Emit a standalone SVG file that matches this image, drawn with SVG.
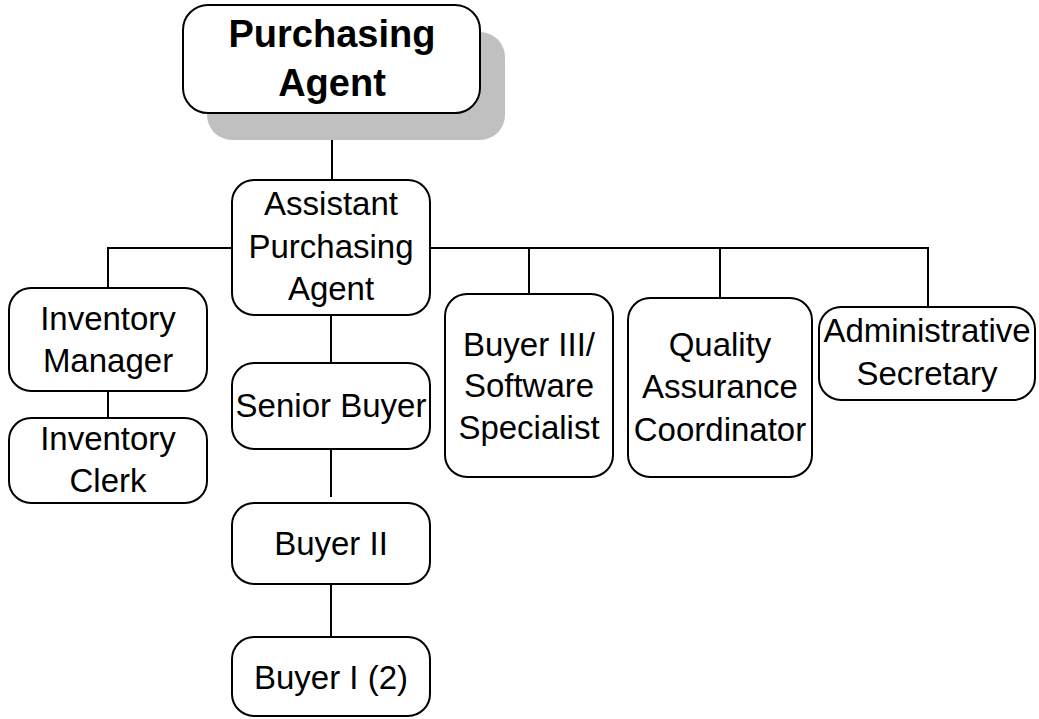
<svg xmlns="http://www.w3.org/2000/svg" width="1039" height="719" viewBox="0 0 1039 719">
<style>
.box{fill:#fff;stroke:#000;stroke-width:2}
.t{font-family:"Liberation Sans",Arial,sans-serif;font-size:33px;fill:#000;text-anchor:middle}
.tb{font-family:"Liberation Sans",Arial,sans-serif;font-size:38px;font-weight:bold;fill:#000;text-anchor:middle}
.c{stroke:#000;stroke-width:2;fill:none}
</style>
<rect x="0" y="0" width="1039" height="719" fill="#fff"/>
<g id="connectors">
<line class="c" x1="332" y1="113" x2="332" y2="180"/>
<polyline class="c" points="108,288 108,248 232,248"/>
<polyline class="c" points="430,248 928,248 928,307"/>
<line class="c" x1="529" y1="248" x2="529" y2="294"/>
<line class="c" x1="720" y1="248" x2="720" y2="298"/>
<line class="c" x1="108" y1="391" x2="108" y2="418"/>
<line class="c" x1="331" y1="315" x2="331" y2="363"/>
<line class="c" x1="331" y1="449" x2="331" y2="497"/>
<line class="c" x1="331" y1="584" x2="331" y2="637"/>
</g>
<g id="purchasing-agent">
<rect x="207" y="32" width="298" height="108" rx="25" fill="#c0c0c0"/>
<rect class="box" x="183" y="5" width="297" height="108" rx="25"/>
<text class="tb" x="332" y="47">Purchasing</text>
<text class="tb" x="332" y="96">Agent</text>
</g>
<g id="assistant-purchasing-agent">
<rect class="box" x="232" y="180" width="198" height="135" rx="22"/>
<text class="t" x="331" y="215">Assistant</text>
<text class="t" x="331" y="258">Purchasing</text>
<text class="t" x="331" y="300">Agent</text>
</g>
<g id="inventory-manager">
<rect class="box" x="9" y="288" width="198" height="103" rx="22"/>
<text class="t" x="108" y="330">Inventory</text>
<text class="t" x="108" y="372">Manager</text>
</g>
<g id="inventory-clerk">
<rect class="box" x="9" y="418" width="198" height="85" rx="22"/>
<text class="t" x="108" y="450">Inventory</text>
<text class="t" x="108" y="492">Clerk</text>
</g>
<g id="senior-buyer">
<rect class="box" x="232" y="363" width="198" height="86" rx="22"/>
<text class="t" x="331" y="417">Senior Buyer</text>
</g>
<g id="buyer-ii">
<rect class="box" x="232" y="503" width="198" height="81" rx="22"/>
<text class="t" x="331" y="555">Buyer II</text>
</g>
<g id="buyer-i">
<rect class="box" x="232" y="637" width="198" height="79" rx="22"/>
<text class="t" x="331" y="689">Buyer I (2)</text>
</g>
<g id="buyer-iii">
<rect class="box" x="445" y="294" width="168" height="183" rx="22"/>
<text class="t" x="529" y="356">Buyer III/</text>
<text class="t" x="529" y="397">Software</text>
<text class="t" x="529" y="439">Specialist</text>
</g>
<g id="quality-assurance">
<rect class="box" x="628" y="298" width="184" height="179" rx="22"/>
<text class="t" x="720" y="356">Quality</text>
<text class="t" x="720" y="398">Assurance</text>
<text class="t" x="720" y="441">Coordinator</text>
</g>
<g id="administrative-secretary">
<rect class="box" x="819" y="307" width="216" height="93" rx="22"/>
<text class="t" x="927" y="342">Administrative</text>
<text class="t" x="927" y="385">Secretary</text>
</g>
</svg>
